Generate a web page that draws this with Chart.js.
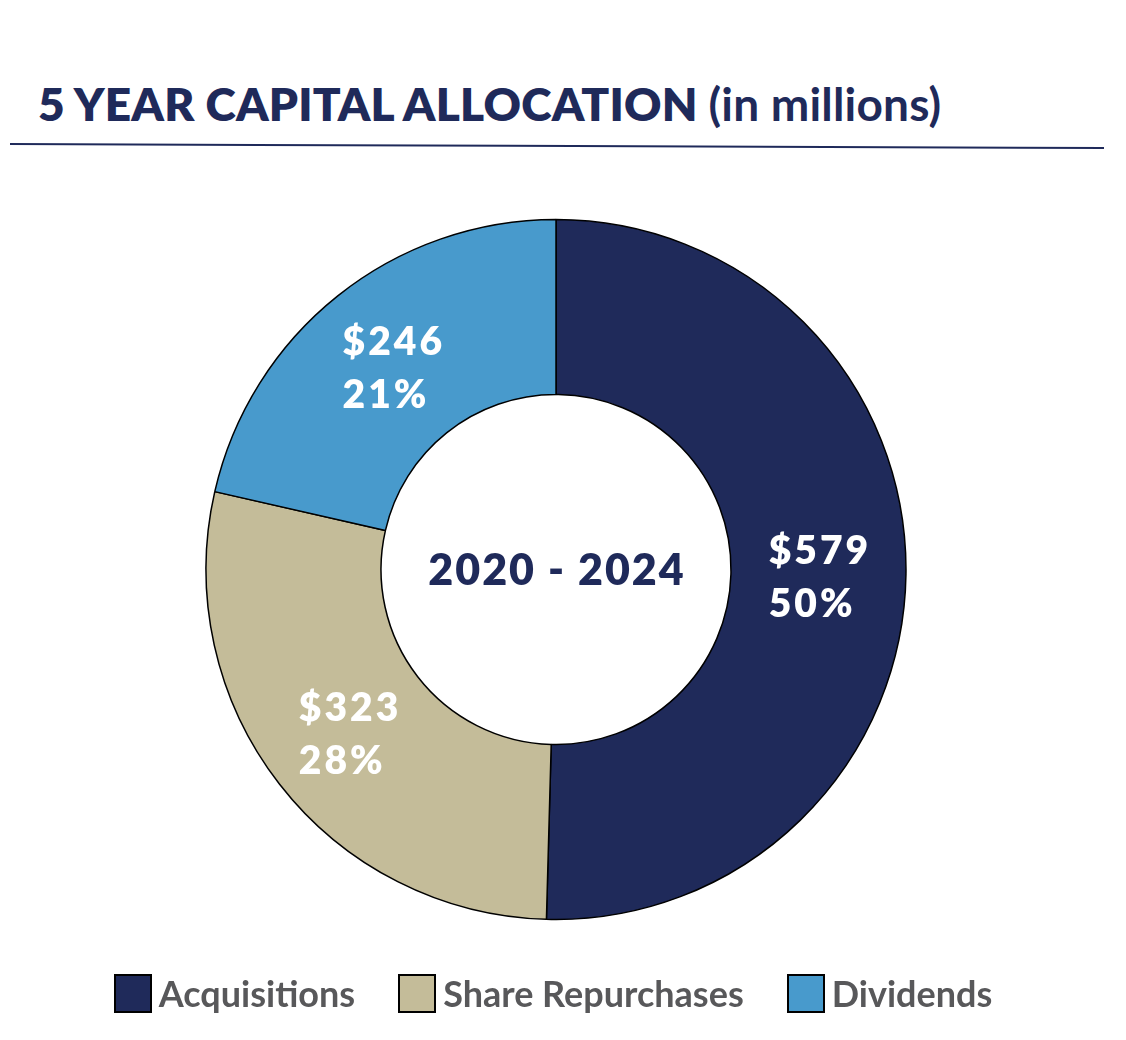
<!DOCTYPE html>
<html>
<head>
<meta charset="utf-8">
<script src="https://cdn.jsdelivr.net/npm/chart.js@4.4.1/dist/chart.umd.min.js"></script>
<style>
  body { margin: 0; background: #fff; width: 1126px; height: 1040px; position: relative; overflow: hidden; font-family: Lato, sans-serif; }
  #title { position: absolute; left: 38px; top: 76px; font-size: 46px; font-weight: 800; color: #1f2a5a; white-space: nowrap; letter-spacing: 0.2px; }
  #title span { font-weight: 700; }
  #rule { position: absolute; left: 10px; top: 143px; width: 1094px; height: 2px; background: #1f2a5a; transform: rotate(0.21deg); transform-origin: left center; }
  #wrap { position: absolute; left: 0; top: 0; width: 1126px; height: 1040px; }
  #legend { position: absolute; left: 0; top: 974px; width: 1106px; display: flex; justify-content: center; gap: 43px; }
  .item { display: flex; align-items: center; }
  .box { width: 34px; height: 35px; border: 2px solid #000; margin-right: 7px; }
  .lbl { font-size: 36px; font-weight: 700; color: #58585a; line-height: 39px; }
</style>
</head>
<body>
<div id="title">5 YEAR CAPITAL ALLOCATION <span>(in millions)</span></div>
<div id="rule"></div>
<div id="wrap"><canvas id="allocChart"></canvas></div>
<div id="legend"></div>
<script>
// 5 year capital allocation, 2020 - 2024 ($ millions)
const categories = ['Acquisitions', 'Share Repurchases', 'Dividends'];
const amounts = [579, 323, 246];
const sliceColors = ['#1f2a5a', '#c4bc99', '#489acc'];
const periodLabel = '2020 - 2024';

const total = amounts.reduce((a, b) => a + b, 0);

// white "$value / pct%" block centred on each slice
const sliceLabels = {
    id: 'sliceLabels',
    afterDatasetsDraw(chart) {
        const { ctx } = chart;
        const meta = chart.getDatasetMeta(0);
        ctx.save();
        ctx.font = '800 39px Lato';
        ctx.letterSpacing = '3px';
        ctx.fillStyle = '#ffffff';
        ctx.textAlign = 'left';
        ctx.textBaseline = 'alphabetic';
        meta.data.forEach((arc, i) => {
            const p = arc.tooltipPosition(true);
            const top = '$' + amounts[i];
            const bottom = Math.round(amounts[i] / total * 100) + '%';
            const w = Math.max(ctx.measureText(top).width, ctx.measureText(bottom).width) - 3;
            ctx.fillText(top, p.x - w / 2, p.y - 9);
            ctx.fillText(bottom, p.x - w / 2, p.y + 44);
        });
        ctx.restore();
    }
};

// period text in the hole
const centerText = {
    id: 'centerText',
    afterDraw(chart) {
        const { ctx } = chart;
        const arc = chart.getDatasetMeta(0).data[0];
        ctx.save();
        ctx.font = '800 43px Lato';
        ctx.letterSpacing = '2px';
        ctx.fillStyle = '#1f2a5a';
        ctx.textAlign = 'center';
        ctx.textBaseline = 'alphabetic';
        ctx.fillText(periodLabel, arc.x + 1, arc.y + 15);
        ctx.restore();
    }
};

// html legend built from the chart's own legend items
const htmlLegend = {
    id: 'htmlLegend',
    afterUpdate(chart) {
        const el = document.getElementById('legend');
        el.innerHTML = '';
        chart.options.plugins.legend.labels.generateLabels(chart).forEach(item => {
            const row = document.createElement('div');
            row.className = 'item';
            const box = document.createElement('span');
            box.className = 'box';
            box.style.background = item.fillStyle;
            const txt = document.createElement('span');
            txt.className = 'lbl';
            txt.textContent = item.text;
            row.appendChild(box);
            row.appendChild(txt);
            el.appendChild(row);
        });
    }
};

new Chart(document.getElementById('allocChart'), {
    type: 'doughnut',
    data: {
        labels: categories,
        datasets: [{
            data: amounts,
            backgroundColor: sliceColors,
            borderColor: '#000000',
            borderWidth: 1.5,
            radius: 350,
            cutout: '50%'
        }]
    },
    options: {
        responsive: true,
        maintainAspectRatio: false,
        animation: false,
        layout: { padding: { top: 207, right: 14, bottom: 108, left: 0 } },
        plugins: {
            tooltip: { enabled: false },
            legend: { display: false }
        }
    },
    plugins: [sliceLabels, centerText, htmlLegend]
});
</script>
</body>
</html>
